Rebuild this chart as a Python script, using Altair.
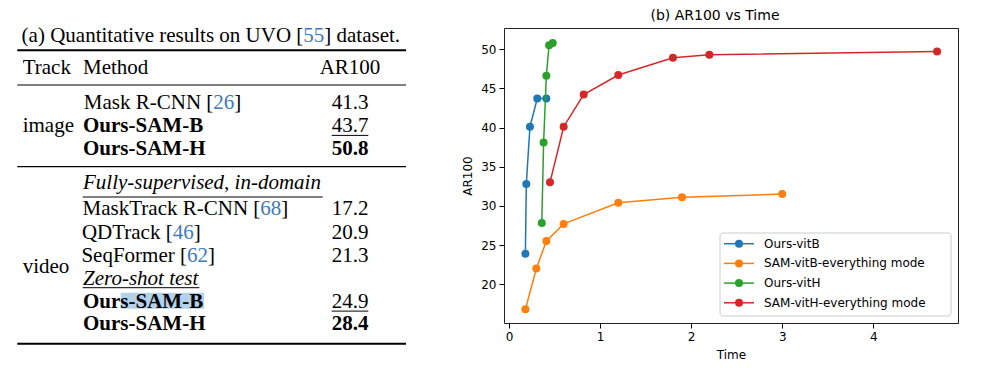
import altair as alt
import pandas as pd

# ---------------- (b) chart data ----------------
series_names = ["Ours-vitB", "SAM-vitB-everything mode", "Ours-vitH", "SAM-vitH-everything mode"]
series_colors = ["#1f77b4", "#ff7f0e", "#2ca02c", "#d62728"]
vitb_time = [0.18, 0.19, 0.23, 0.31, 0.41]
vitb_ar = [23.9, 32.8, 40.1, 43.7, 43.7]
sam_b_time = [0.18, 0.30, 0.41, 0.60, 1.20, 1.90, 3.00]
sam_b_ar = [16.8, 22.0, 25.5, 27.7, 30.4, 31.1, 31.5]
vith_time = [0.36, 0.38, 0.41, 0.44, 0.48]
vith_ar = [27.8, 38.1, 46.6, 50.5, 50.8]
sam_h_time = [0.45, 0.60, 0.82, 1.20, 1.80, 2.20, 4.70]
sam_h_ar = [33.0, 40.1, 44.2, 46.7, 48.9, 49.3, 49.7]
x_ticks = [0, 1, 2, 3, 4]
y_ticks = [20, 25, 30, 35, 40, 45, 50]
plot_title = "(b) AR100 vs Time"

# ---------------- (a) table data ----------------
caption_text = ["(a) Quantitative results on UVO [", "55", "] dataset."]
header_labels = ["Track", "Method", "AR100"]
track_labels = ["image", "video"]
image_methods = ["Mask R-CNN", "Ours-SAM-B", "Ours-SAM-H"]
image_refs = ["26", "", ""]
image_ar100 = ["41.3", "43.7", "50.8"]
video_groups = ["Fully-supervised, in-domain", "Zero-shot test"]
video_methods = ["MaskTrack R-CNN", "QDTrack", "SeqFormer", "Ours-SAM-B", "Ours-SAM-H"]
video_refs = ["68", "46", "62", "", ""]
video_ar100 = ["17.2", "20.9", "21.3", "24.9", "28.4"]
bold_methods = ["Ours-SAM-B", "Ours-SAM-H"]
best_ar = ["50.8", "28.4"]
second_ar = ["43.7", "24.9"]

# ---------------- table layout (page pixels) ----------------
col_track_x = 22.7
col_method_x = 83.0
col_ar_center = 350.0
caption_y = 40.7
header_y = 72.7
image_rows_y = [108.3, 131.0, 154.0]
image_track_y = 131.0
video_group_y = [188.3, 284.0]
video_rows_y = [214.0, 238.3, 260.7, 306.7, 329.3]
video_track_y = 271.7
cite_x = {"55": 303.3, "26": 213.3, "68": 260.3, "46": 172.7, "62": 187.0}
cite_w = 21.0
num_half = 18.3

segs = []


def add(text, x, y, kind):
    segs.append({"text": text, "x": x, "y": y, "kind": kind})


add(caption_text[0], cite_x[caption_text[1]], caption_y, "right")
add(caption_text[1], cite_x[caption_text[1]], caption_y, "cite")
add(caption_text[2], cite_x[caption_text[1]] + cite_w, caption_y, "normal")
add(header_labels[0], col_track_x, header_y, "normal")
add(header_labels[1], col_method_x, header_y, "normal")
add(header_labels[2], col_ar_center, header_y, "num")
add(track_labels[0], col_track_x, image_track_y, "normal")
add(track_labels[1], col_track_x, video_track_y, "normal")
add(video_groups[0], col_method_x, video_group_y[0], "italic")
add(video_groups[1], col_method_x, video_group_y[1], "italic")

rules = [
    {"x": 17.3, "x2": 406.0, "y": 49.3, "w": 2.0},
    {"x": 17.3, "x2": 406.0, "y": 84.0, "w": 1.2},
    {"x": 17.3, "x2": 406.0, "y": 165.7, "w": 1.2},
    {"x": 17.3, "x2": 406.0, "y": 342.7, "w": 2.0},
    {"x": 82.7, "x2": 322.7, "y": 196.0, "w": 1.0},
    {"x": 82.7, "x2": 199.3, "y": 286.7, "w": 1.0},
]

for methods, refs, vals, ys in [
    (image_methods, image_refs, image_ar100, image_rows_y),
    (video_methods, video_refs, video_ar100, video_rows_y),
]:
    for m, r, v, y in zip(methods, refs, vals, ys):
        if r:
            add(m + " [", cite_x[r], y, "right")
            add(r, cite_x[r], y, "cite")
            add("]", cite_x[r] + cite_w, y, "normal")
        else:
            add(m, col_method_x, y, "bold" if m in bold_methods else "normal")
        add(v, col_ar_center, y, "numbold" if v in best_ar else "num")
        if v in second_ar:
            rules.append({"x": col_ar_center - num_half, "x2": col_ar_center + num_half,
                          "y": y + 3.4, "w": 1.0})

seg_df = pd.DataFrame(segs)
rule_df = pd.DataFrame(rules)
hl_df = pd.DataFrame([{"x": 120.7, "x2": 204.0, "y": 291.7, "y2": 307.7}])

TOP = 27
TW, TH = 400, 320
tx = alt.Scale(domain=[8, 8 + TW], nice=False, zero=False)
ty = alt.Scale(domain=[TOP, TOP + TH], nice=False, zero=False, reverse=True)

hl = alt.Chart(hl_df).mark_rect(color="#b3d1ea").encode(
    x=alt.X("x:Q", scale=tx, axis=None), x2="x2:Q",
    y=alt.Y("y:Q", scale=ty, axis=None), y2="y2:Q")
rl = alt.Chart(rule_df).mark_rule(color="black").encode(
    x=alt.X("x:Q", scale=tx, axis=None), x2="x2:Q",
    y=alt.Y("y:Q", scale=ty, axis=None),
    strokeWidth=alt.StrokeWidth("w:Q", scale=None))

kind_props = {
    "normal": dict(align="left", fontWeight="normal", fontStyle="normal", color="black"),
    "right": dict(align="right", fontWeight="normal", fontStyle="normal", color="black"),
    "bold": dict(align="left", fontWeight="bold", fontStyle="normal", color="black"),
    "italic": dict(align="left", fontWeight="normal", fontStyle="italic", color="black"),
    "cite": dict(align="left", fontWeight="normal", fontStyle="normal", color="#4279b5"),
    "num": dict(align="center", fontWeight="normal", fontStyle="normal", color="black"),
    "numbold": dict(align="center", fontWeight="bold", fontStyle="normal", color="black"),
}
text_layers = []
for kind, props in kind_props.items():
    text_layers.append(
        alt.Chart(seg_df).transform_filter(alt.datum.kind == kind)
        .mark_text(font="Liberation Serif", fontSize=21, baseline="alphabetic", **props)
        .encode(x=alt.X("x:Q", scale=tx, axis=None),
                y=alt.Y("y:Q", scale=ty, axis=None),
                text="text:N")
    )

table = alt.layer(hl, rl, *text_layers).properties(
    width=TW, height=TH, view=alt.ViewBackground(stroke=None))

# ---------------- plot ----------------
rows = []
for name, ts, vs in zip(series_names,
                        [vitb_time, sam_b_time, vith_time, sam_h_time],
                        [vitb_ar, sam_b_ar, vith_ar, sam_h_ar]):
    for t, v in zip(ts, vs):
        rows.append({"series": name, "time": t, "ar": v})
df = pd.DataFrame(rows)

color_scale = alt.Scale(domain=series_names, range=series_colors)
x_enc = alt.X("time:Q", scale=alt.Scale(domain=[-0.055, 4.93], nice=False, zero=False),
              axis=alt.Axis(title="Time", values=x_ticks, format="d", titlePadding=7))
y_enc = alt.Y("ar:Q", scale=alt.Scale(domain=[15.05, 52.7], nice=False, zero=False),
              axis=alt.Axis(title="AR100", values=y_ticks, format="d", titlePadding=6))
col_enc = alt.Color("series:N", scale=color_scale, legend=None)

layers = []
for name in series_names:
    base = alt.Chart(df).transform_filter(alt.datum.series == name).encode(
        x=x_enc, y=y_enc, color=col_enc)
    layers.append(base.mark_line(strokeWidth=1.5))
    layers.append(base.mark_circle(size=64, opacity=1))

legend_box = alt.Chart(pd.DataFrame({"a": [0]})).mark_rect(
    fill="white", fillOpacity=0.8, stroke="#cccccc", strokeWidth=1, cornerRadius=3
).encode(x=alt.value(216), x2=alt.value(447), y=alt.value(205), y2=alt.value(288))
layers.append(legend_box)

legend_rows_y = [215.7, 235.4, 255.1, 274.8]
for i, name in enumerate(series_names):
    ldf = pd.DataFrame({"series": [name]})
    ly = legend_rows_y[i]
    layers.append(alt.Chart(ldf).mark_rule(strokeWidth=1.5).encode(
        x=alt.value(220), x2=alt.value(250), y=alt.value(ly), color=col_enc))
    layers.append(alt.Chart(ldf).mark_circle(size=64, opacity=1).encode(
        x=alt.value(235), y=alt.value(ly), color=col_enc))
    layers.append(alt.Chart(ldf).mark_text(
        align="left", baseline="middle", font="DejaVu Sans", fontSize=12, color="black"
    ).encode(x=alt.value(260), y=alt.value(ly), text="series:N"))

plot = alt.layer(*layers).properties(
    width=454, height=295,
    title=alt.TitleParams(plot_title, font="DejaVu Sans", fontSize=14, fontWeight="normal",
                          color="black", frame="group", anchor="middle", dx=-16, offset=5),
)

chart = alt.hconcat(table, plot, spacing=53).properties(padding=0).configure(
    background="white"
).configure_view(stroke="#222222", strokeWidth=1).configure_axis(
    labelFont="DejaVu Sans", labelFontSize=12, labelColor="black",
    titleFont="DejaVu Sans", titleFontSize=12, titleFontWeight="normal", titleColor="black",
    tickColor="black", tickSize=5, tickWidth=1, domain=False, grid=False, labelPadding=3,
)

chart.save("out.html", embed_options={"renderer": "svg", "actions": False})
